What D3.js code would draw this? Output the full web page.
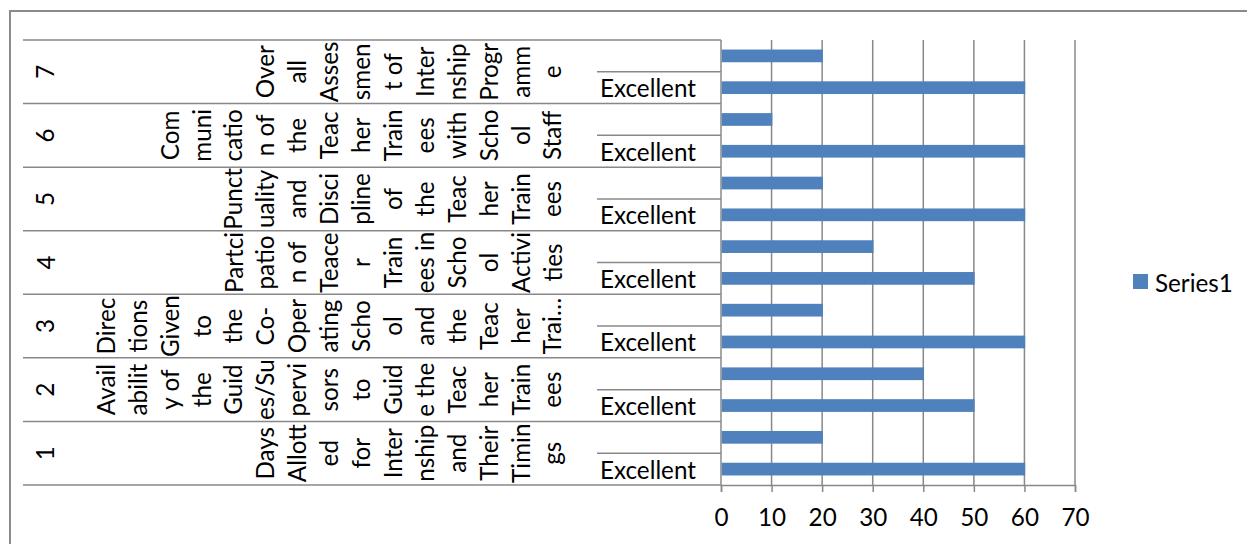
<!DOCTYPE html>
<html>
<head>
<meta charset="utf-8">
<script src="https://cdn.jsdelivr.net/npm/d3@7"></script>
<style>
  html, body { margin: 0; padding: 0; background: #fff; }
  svg { display: block; }
  text { font-family: Lato, "Open Sans", sans-serif; fill: #000; }
</style>
</head>
<body>
<svg id="chart" width="1247" height="544"></svg>
<script>
// ---------- data ----------
const groups = ["1", "2", "3", "4", "5", "6", "7"];
const groupLabelLines = [
  ["Days", "Allott", "ed", "for", "Inter", "nship", "and", "Their", "Timin", "gs"],
  ["Avail", "abilit", "y of", "the", "Guid", "es/Su", "pervi", "sors", "to", "Guid", "e the", "Teac", "her", "Train", "ees"],
  ["Direc", "tions", "Given", "to", "the", "Co-", "Oper", "ating", "Scho", "ol", "and", "the", "Teac", "her", "Trai…"],
  ["Partci", "patio", "n of", "Teace", "r", "Train", "ees in", "Scho", "ol", "Activi", "ties"],
  ["Punct", "uality", "and", "Disci", "pline", "of", "the", "Teac", "her", "Train", "ees"],
  ["Com", "muni", "catio", "n of", "the", "Teac", "her", "Train", "ees", "with", "Scho", "ol", "Staff"],
  ["Over", "all", "Asses", "smen", "t of", "Inter", "nship", "Progr", "amm", "e"]
];
const subCategories = ["Excellent", ""];           // bottom, top within each group
const excellentValues = [60, 50, 60, 50, 60, 60, 60];
const otherValues     = [20, 40, 20, 30, 20, 10, 20];
const xTicks = [0, 10, 20, 30, 40, 50, 60, 70];
const seriesName = "Series1";

// ---------- layout ----------
const svg = d3.select("#chart");
const plotTop = 40, plotBottom = 485, plotLeft = 721, plotRight = 1075;
const gridColor = "#888888";
const barColor = "#4F81BD";

// font size matched to the reference text width
const probe = svg.append("text").style("font-size", "100px").text("Excellent");
const probeW = probe.node().getComputedTextLength();
probe.remove();
const fs = Math.max(18, Math.min(26, 96 / probeW * 100));

// outer border (top and left visible)
svg.append("rect").attr("x", 9).attr("y", 10).attr("width", 1238).attr("height", 2).attr("fill", "#8a8a8a");
svg.append("rect").attr("x", 9).attr("y", 10).attr("width", 2).attr("height", 534).attr("fill", "#8a8a8a");

// data rows
const rows = [];
groups.forEach((g, gi) => {
  rows.push({ key: g + "|0", group: g, gi, sub: subCategories[0], value: excellentValues[gi] });
  rows.push({ key: g + "|1", group: g, gi, sub: subCategories[1], value: otherValues[gi] });
});
// top-to-bottom order: group 7 top item first
const order = rows.slice().reverse().map(d => d.key);

const x = d3.scaleLinear().domain([0, 70]).range([plotLeft, plotRight]);
const y = d3.scaleBand().domain(order).range([plotTop, plotBottom]).paddingInner(0.6).paddingOuter(0.3);
const yGroup = d3.scaleBand().domain(groups.slice().reverse()).range([plotTop, plotBottom]);

// vertical gridlines
svg.append("g").selectAll("line").data(xTicks).join("line")
  .attr("x1", d => x(d)).attr("x2", d => x(d))
  .attr("y1", plotTop).attr("y2", plotBottom)
  .attr("stroke", gridColor).attr("stroke-width", 1.5);

// x axis
const xAxis = svg.append("g").attr("transform", `translate(0,${plotBottom})`)
  .call(d3.axisBottom(x).tickValues(xTicks).tickSize(7).tickPadding(17).tickFormat(d3.format("d")));
xAxis.select(".domain").attr("stroke", gridColor).attr("stroke-width", 1.5);
xAxis.selectAll(".tick line").attr("stroke", gridColor).attr("stroke-width", 1.5);
xAxis.selectAll(".tick text").style("font-size", fs + "px").style("font-family", "Lato, sans-serif").attr("fill", "#000");

// group boundary lines across category area
const boundaries = groups.map(g => yGroup(g)).concat([plotBottom]);
svg.append("g").selectAll("line").data(boundaries).join("line")
  .attr("x1", 23).attr("x2", plotLeft)
  .attr("y1", d => d).attr("y2", d => d)
  .attr("stroke", gridColor).attr("stroke-width", 1.5);

// mid-group lines in the inner category column
svg.append("g").selectAll("line").data(groups).join("line")
  .attr("x1", 597).attr("x2", plotLeft)
  .attr("y1", g => yGroup(g) + yGroup.bandwidth() / 2)
  .attr("y2", g => yGroup(g) + yGroup.bandwidth() / 2)
  .attr("stroke", gridColor).attr("stroke-width", 1.5);

// bars
svg.append("g").selectAll("rect").data(rows).join("rect")
  .attr("x", x(0) + 0.75)
  .attr("y", d => y(d.key))
  .attr("width", d => x(d.value) - x(0))
  .attr("height", y.bandwidth())
  .attr("fill", barColor);

// inner category labels (Excellent)
svg.append("g").selectAll("text").data(rows.filter(d => d.sub !== "")).join("text")
  .attr("x", 600)
  .attr("y", d => y(d.key) + y.bandwidth() / 2)
  .attr("dominant-baseline", "central")
  .style("font-size", fs + "px")
  .text(d => d.sub);

// middle-level rotated, wrapped labels
const lastColX = 552, colStep = 31.9;
const labelG = svg.append("g");
groups.forEach((g, gi) => {
  const lines = groupLabelLines[gi];
  const cy = yGroup(g) + yGroup.bandwidth() / 2;
  lines.forEach((t, i) => {
    const cx = lastColX - (lines.length - 1 - i) * colStep;
    labelG.append("text")
      .attr("x", cx).attr("y", cy)
      .attr("transform", `rotate(-90,${cx},${cy})`)
      .attr("text-anchor", "middle")
      .attr("dominant-baseline", "central")
      .style("font-size", fs + "px")
      .text(t);
  });
});

// outer-level rotated group numbers
svg.append("g").selectAll("text").data(groups).join("text")
  .attr("x", 45)
  .attr("y", g => yGroup(g) + yGroup.bandwidth() / 2)
  .attr("transform", g => `rotate(-90,45,${yGroup(g) + yGroup.bandwidth() / 2})`)
  .attr("text-anchor", "middle")
  .attr("dominant-baseline", "central")
  .style("font-size", fs + "px")
  .text(g => g);

// legend
const legend = svg.append("g");
legend.append("rect").attr("x", 1133).attr("y", 274).attr("width", 15).attr("height", 15).attr("fill", barColor);
legend.append("text").attr("x", 1155).attr("y", 282).attr("dominant-baseline", "central")
  .style("font-size", fs + "px").text(seriesName);
</script>
</body>
</html>
